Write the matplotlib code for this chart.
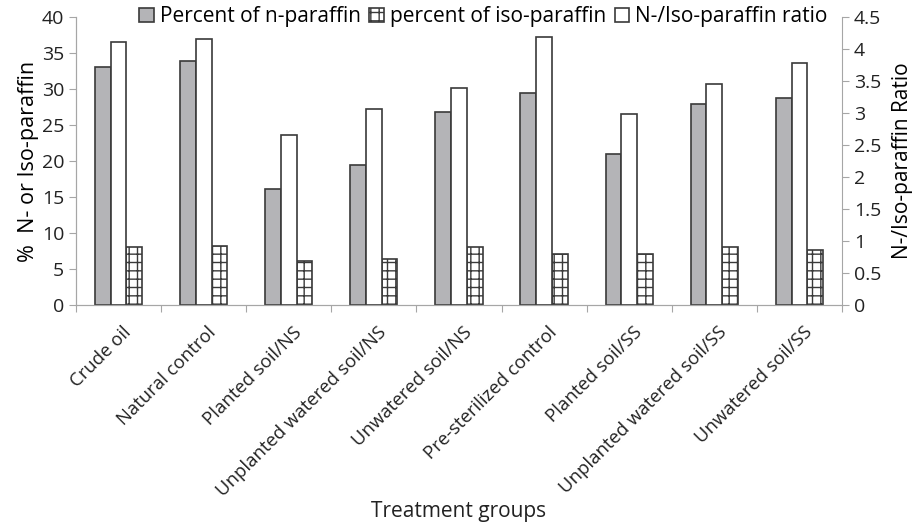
import numpy as np
import matplotlib
matplotlib.use("Agg")
import matplotlib.pyplot as plt
from matplotlib.ticker import FuncFormatter

plt.rcParams['font.family'] = ['Open Sans', 'DejaVu Sans']
plt.rcParams['hatch.linewidth'] = 1.0

# Datos
grupos = ["Crude oil", "Natural control", "Planted soil/NS", "Unplanted watered soil/NS",
          "Unwatered soil/NS", "Pre-sterilized control", "Planted soil/SS",
          "Unplanted watered soil/SS", "Unwatered soil/SS"]
n_paraf = [33.1, 33.9, 16.15, 19.5, 26.85, 29.5, 21.0, 27.9, 28.8]
iso_paraf = [8.05, 8.2, 6.15, 6.4, 8.0, 7.1, 7.1, 8.1, 7.6]
ratio = [4.11, 4.15, 2.65, 3.06, 3.39, 4.19, 2.98, 3.45, 3.78]

gris = "#a6a6a6"
borde = "#3a3a3a"
x = np.arange(len(grupos))
w = 0.185

fig = plt.figure(figsize=(9.2, 5.23), dpi=100)
ax = fig.add_axes([0.0826, 0.4168, 0.8326, 0.5507])
ax2 = ax.twinx()

b1 = ax.bar(x - w, n_paraf, w, color="#b4b4b7", edgecolor=borde, linewidth=1.2,
            label="Percent of n-paraffin")
b2 = ax.bar(x + w, iso_paraf, w, color="white", edgecolor=borde, linewidth=1.2,
            hatch="++", label="percent of iso-paraffin")
b3 = ax2.bar(x, ratio, w, color="white", edgecolor=borde, linewidth=1.2,
             label="N-/Iso-paraffin ratio")

ax.set_xlim(-0.5, len(grupos) - 0.5)
ax.set_ylim(0, 40)
ax2.set_ylim(0, 4.5)
ax.set_yticks(np.arange(0, 41, 5))
ax2.set_yticks(np.arange(0, 4.51, 0.5))
ax2.yaxis.set_major_formatter(FuncFormatter(lambda v, p: f"{v:g}"))

# Ejes estilo Excel
for a in (ax, ax2):
    for s in a.spines.values():
        s.set_color(gris)
    a.spines['top'].set_visible(False)
    a.tick_params(colors=gris, labelcolor="#222222", labelsize=14, length=5)
ax.spines['right'].set_visible(False)

# Marcas entre categorias, etiquetas rotadas
ax.set_xticks(np.arange(-0.5, len(grupos) + 0.5, 1))
ax.set_xticklabels([])
ax.set_xticks(x + 0.04, minor=True)
ax.set_xticklabels(grupos, minor=True, rotation=45, ha="right", va="top",
                   rotation_mode="anchor", fontsize=13.3, color="#222222")
ax.tick_params(axis="x", which="minor", length=0, pad=13)

ax.set_ylabel("%  N- or Iso-paraffin", fontsize=15.5, labelpad=2)
ax2.set_ylabel("N-/Iso-paraffin Ratio", fontsize=15, labelpad=8)
fig.text(0.4984, 1 - 517 / 523, "Treatment groups", fontsize=15, ha="center",
         va="baseline", color="#222222")

ax.legend(handles=[b1, b2, b3], loc="center right", bbox_to_anchor=(0.995, 1.0),
          ncol=3, frameon=False, fontsize=15, handlelength=0.7, handleheight=0.7,
          handletextpad=0.3, columnspacing=0.4, borderpad=0)

fig.savefig("out.png", dpi=100)
